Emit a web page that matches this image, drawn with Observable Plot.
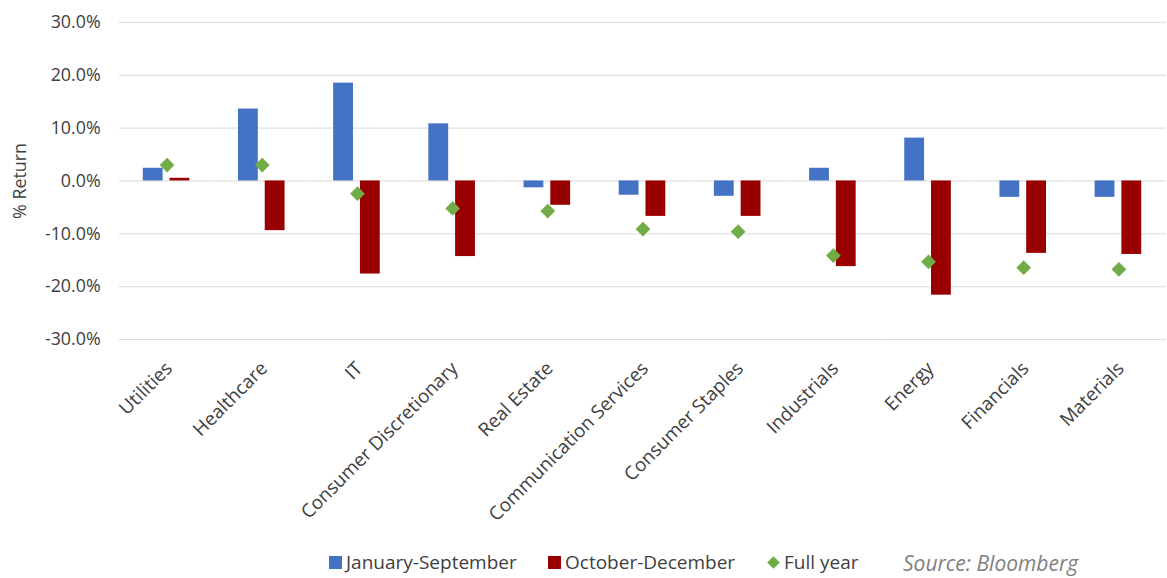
<!DOCTYPE html>
<html>
<head>
<meta charset="utf-8">
<script src="https://cdn.jsdelivr.net/npm/d3@7"></script>
<script src="https://cdn.jsdelivr.net/npm/@observablehq/plot@0.6"></script>
<style>
  html, body { margin: 0; padding: 0; background: #fff; overflow: hidden; }
  #wrap { position: relative; width: 1167px; height: 578px; overflow: hidden; font-family: "Open Sans", sans-serif; }
  #chart { position: absolute; left: 0; top: 0; }
  .leg { position: absolute; top: 549px; height: 26px; display: flex; align-items: center; font-size: 19px; color: #404040; white-space: nowrap; }
  .sw { display: inline-block; width: 13px; height: 13px; margin-right: 4px; }
  .dia { display: inline-block; width: 9px; height: 9px; margin: 0 6px 0 3px; transform: rotate(45deg); }
  #source { position: absolute; left: 903px; top: 553px; font-size: 21px; line-height: 1; font-style: italic; color: #7f7f7f; white-space: nowrap; }
</style>
</head>
<body>
<div id="wrap">
  <div id="chart"></div>
  <div class="leg" style="left:329px"><span class="sw" style="background:#4472C4"></span>January-September</div>
  <div class="leg" style="left:548px"><span class="sw" style="background:#990000"></span>October-December</div>
  <div class="leg" style="left:766px"><span class="dia" style="background:#70AD47"></span>Full year</div>
  <div id="source">Source: Bloomberg</div>
</div>
<script>
const sectors = ["Utilities", "Healthcare", "IT", "Consumer Discretionary", "Real Estate", "Communication Services", "Consumer Staples", "Industrials", "Energy", "Financials", "Materials"];
const periods = ["January-September", "October-December"];
const janSep = [2.4, 13.6, 18.5, 10.8, -1.3, -2.7, -2.9, 2.4, 8.1, -3.1, -3.1];
const octDec = [0.5, -9.4, -17.6, -14.3, -4.6, -6.7, -6.7, -16.2, -21.6, -13.7, -13.9];
const fullYear = [3.0, 3.0, -2.4, -5.2, -5.7, -9.1, -9.6, -14.1, -15.3, -16.4, -16.7];
const yTicks = [-30, -20, -10, 0, 10, 20, 30];

const bars = sectors.flatMap((s, i) => [
  {sector: s, period: periods[0], value: janSep[i]},
  {sector: s, period: periods[1], value: octDec[i]}
]);
const full = sectors.map((s, i) => ({sector: s, value: fullYear[i]}));

const chart = Plot.plot({
  width: 1177,
  height: 545,
  marginLeft: 118,
  marginRight: 0,
  marginTop: 22,
  marginBottom: 203,
  style: {fontFamily: "Open Sans, sans-serif", fontSize: "18px", color: "#404040", background: "#fff", overflow: "visible"},
  fx: {domain: sectors, padding: 0},
  x: {domain: periods, paddingInner: 0.242, paddingOuter: 0.859, axis: null},
  y: {domain: [-30, 30]},
  color: {domain: periods, range: ["#4472C4", "#990000"]},
  marks: [
    Plot.gridY(yTicks, {stroke: "#d9d9d9", strokeOpacity: 1, strokeWidth: 1}),
    Plot.barY(bars, {fx: "sector", x: "period", y: "value", fill: "period"}),
    Plot.dot(full, {fx: "sector", y: "value", symbol: "diamond2", r: 6.7, fill: "#70AD47", stroke: "none"}),
    Plot.axisY(yTicks, {tickFormat: d => d.toFixed(1) + "%", tickSize: 0, tickPadding: 19, fontSize: 18, label: "% Return", labelAnchor: "center", labelOffset: 107, labelArrow: "none"}),
    Plot.axisFx({anchor: "bottom", tickRotate: -45, tickSize: 0, tickPadding: 26, dx: 2, fontSize: 19, label: null})
  ]
});
document.getElementById("chart").appendChild(chart);
</script>
</body>
</html>
